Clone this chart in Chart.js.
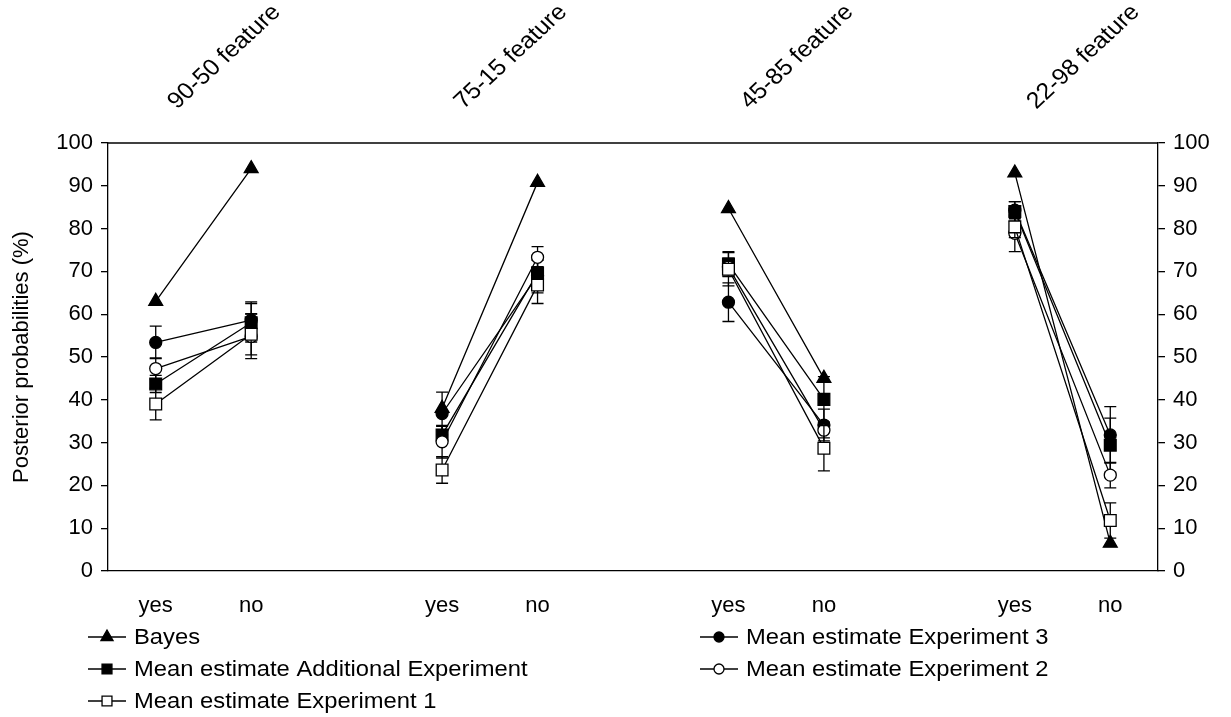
<!DOCTYPE html>
<html>
<head>
<meta charset="utf-8">
<script src="https://cdn.jsdelivr.net/npm/chart.js@4/dist/chart.umd.min.js"></script>
<style>
  html, body { margin: 0; padding: 0; background: #fff; }
  #wrap { width: 1231px; height: 717px; }
</style>
</head>
<body>
<div id="wrap"><canvas id="chart" width="1231" height="717"></canvas></div>
<script>
// Answer categories; empty slots separate the four feature groups
const answers = ['yes', 'no', '', 'yes', 'no', '', 'yes', 'no', '', 'yes', 'no'];
const featureNames = ['90-50 feature', '75-15 feature', '45-85 feature', '22-98 feature'];
const featureGroups = [[0, 1], [3, 4], [6, 7], [9, 10]];
const yTicks = [0, 10, 20, 30, 40, 50, 60, 70, 80, 90, 100];

// Posterior probabilities (%) per answer slot
const bayes         = [63.0, 94.0, null, 38.0, 90.8, null, 84.7, 45.0, null, 93.0, 6.5];
const exp3          = [53.4, 58.6, null, 36.8, 69.0, null, 62.8, 34.1, null, 84.3, 31.8];
const exp3Err       = [3.8, 4.3, null, 5.0, 4.0, null, 4.5, 3.7, null, 2.0, 6.6];
const additional    = [43.7, 58.0, null, 31.8, 69.6, null, 71.7, 40.1, null, 84.0, 29.4];
const additionalErr = [2.0, 4.5, null, 2.0, 3.0, null, 2.9, 5.3, null, 2.3, 6.3];
const exp2          = [47.3, 54.8, null, 30.2, 73.3, null, 71.0, 32.9, null, 78.9, 22.4];
const exp2Err       = [2.5, 5.2, null, 3.8, 2.5, null, 2.1, 1.8, null, 4.3, 3.0];
const exp1          = [39.0, 55.3, null, 23.6, 66.8, null, 70.5, 28.7, null, 80.4, 11.8];
const exp1Err       = [3.7, 4.8, null, 3.1, 4.3, null, 3.9, 5.3, null, 2.5, 4.1];

const INK = '#000000';
const FAMILY = "'Liberation Sans', Arial, sans-serif";
const FONT = { family: FAMILY, size: 22 };
const WIDEN = 1.08;   // slightly wide lettering for the drawn texts

function series(label, data, errors, pointStyle, fill, radius, legendRadius, order) {
  return {
    label, data, errors, order, legendRadius,
    borderColor: INK, borderWidth: 1.3,
    pointStyle, pointRadius: radius, pointHoverRadius: radius,
    pointBackgroundColor: fill, pointBorderColor: INK, pointBorderWidth: 1.3,
    spanGaps: false, tension: 0, fill: false
  };
}

const datasets = [
  series('Bayes', bayes, null, 'triangle', INK, 8, 7, 5),
  series('Mean estimate Experiment 3', exp3, exp3Err, 'circle', INK, 6, 5, 4),
  series('Mean estimate Additional Experiment', additional, additionalErr, 'rect', INK, 8.3, 7, 3),
  series('Mean estimate Experiment 2', exp2, exp2Err, 'circle', '#ffffff', 6, 5, 2),
  series('Mean estimate Experiment 1', exp1, exp1Err, 'rect', '#ffffff', 8.3, 7, 1)
];

// Vertical error bars with caps, drawn just under each series
const errorBars = {
  id: 'errorBars',
  beforeDatasetDraw(chart, args) {
    const ds = chart.data.datasets[args.index];
    if (!ds.errors) return;
    const y = chart.scales.y;
    const ctx = chart.ctx;
    ctx.save();
    ctx.strokeStyle = INK;
    ctx.lineWidth = 1.3;
    args.meta.data.forEach((pt, i) => {
      const v = ds.data[i], e = ds.errors[i];
      if (v == null || e == null) return;
      const top = y.getPixelForValue(v + e);
      const bot = y.getPixelForValue(v - e);
      ctx.beginPath();
      ctx.moveTo(pt.x, top); ctx.lineTo(pt.x, bot);
      ctx.moveTo(pt.x - 6, top); ctx.lineTo(pt.x + 6, top);
      ctx.moveTo(pt.x - 6, bot); ctx.lineTo(pt.x + 6, bot);
      ctx.stroke();
    });
    ctx.restore();
  }
};

// Top edge of the plot frame
const frameTop = {
  id: 'frameTop',
  beforeDatasetsDraw(chart) {
    const { ctx, chartArea: a } = chart;
    ctx.save();
    ctx.strokeStyle = INK;
    ctx.lineWidth = 1.5;
    ctx.beginPath();
    ctx.moveTo(a.left, a.top); ctx.lineTo(a.right, a.top);
    ctx.stroke();
    ctx.restore();
  }
};

// Slanted feature names above each answer pair
const featureLabels = {
  id: 'featureLabels',
  afterDraw(chart) {
    const { ctx } = chart;
    const x = chart.scales.x;
    ctx.save();
    ctx.fillStyle = INK;
    ctx.font = `23px ${FAMILY}`;
    ctx.textAlign = 'center';
    ctx.textBaseline = 'middle';
    featureNames.forEach((name, k) => {
      const [a, b] = featureGroups[k];
      const cx = (x.getPixelForValue(a) + x.getPixelForValue(b)) / 2 + 21;
      ctx.save();
      ctx.translate(cx, 57);
      ctx.scale(WIDEN, 1);
      ctx.rotate(-Math.PI / 4);
      ctx.fillText(name, 0, 0);
      ctx.restore();
    });
    ctx.restore();
  }
};

function marker(ctx, style, x, y, r) {
  ctx.beginPath();
  if (style === 'triangle') {
    ctx.moveTo(x, y - r);
    ctx.lineTo(x + r * 0.866, y + r * 0.5);
    ctx.lineTo(x - r * 0.866, y + r * 0.5);
    ctx.closePath();
  } else if (style === 'circle') {
    ctx.arc(x, y, r, 0, Math.PI * 2);
  } else {
    const s = r * Math.SQRT1_2;
    ctx.rect(x - s, y - s, 2 * s, 2 * s);
  }
  ctx.fill();
  ctx.stroke();
}

// Two-column legend below the category labels
const legendBox = {
  id: 'legendBox',
  afterDraw(chart) {
    const { ctx } = chart;
    const colX = [88, 700];
    const rowY = [637, 669, 701];
    ctx.save();
    ctx.font = `${FONT.size}px ${FAMILY}`;
    ctx.textBaseline = 'middle';
    ctx.textAlign = 'left';
    chart.data.datasets.forEach((ds, i) => {
      const x0 = colX[i % 2], y0 = rowY[Math.floor(i / 2)];
      ctx.strokeStyle = INK;
      ctx.lineWidth = 1.3;
      ctx.beginPath();
      ctx.moveTo(x0, y0); ctx.lineTo(x0 + 38, y0);
      ctx.stroke();
      ctx.fillStyle = ds.pointBackgroundColor;
      marker(ctx, ds.pointStyle, x0 + 19, y0, ds.legendRadius);
      ctx.fillStyle = INK;
      ctx.save();
      ctx.translate(x0 + 46, y0 + 1);
      ctx.scale(WIDEN, 1);
      ctx.fillText(ds.label, 0, 0);
      ctx.restore();
    });
    ctx.restore();
  }
};

const yAxis = (position, width) => ({
  position, min: 0, max: 100,
  afterBuildTicks: s => { s.ticks = yTicks.map(v => ({ value: v })); },
  ticks: { color: INK, font: FONT, padding: 8 },
  grid: { drawOnChartArea: false, tickLength: 7, color: INK, lineWidth: 1.3 },
  border: { color: INK, width: 1.3 },
  afterFit: s => { s.width = width; }
});

const yLeft = yAxis('left', 108);
yLeft.title = { display: true, text: 'Posterior probabilities (%)', color: INK, font: { family: FAMILY, size: 22 }, padding: { top: 9, bottom: 0 } };

new Chart(document.getElementById('chart'), {
  type: 'line',
  data: { labels: answers, datasets },
  options: {
    responsive: false,
    animation: false,
    devicePixelRatio: 1,
    layout: { padding: { top: 143, bottom: 86, left: 0, right: 0 } },
    plugins: { legend: { display: false }, tooltip: { enabled: false } },
    scales: {
      x: {
        type: 'category', offset: true,
        grid: { display: false, drawTicks: false },
        border: { color: INK, width: 1.3 },
        ticks: { color: INK, font: FONT, padding: 22, autoSkip: false, maxRotation: 0 },
        afterFit: s => { s.height = 60; }
      },
      y: yLeft,
      y2: yAxis('right', 73)
    }
  },
  plugins: [errorBars, frameTop, featureLabels, legendBox]
});
</script>
</body>
</html>
